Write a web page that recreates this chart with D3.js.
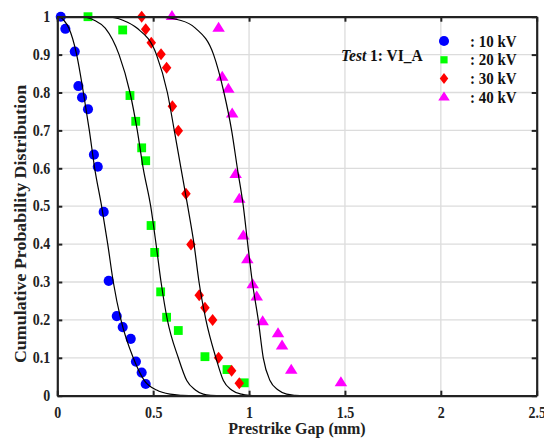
<!doctype html>
<html>
<head>
  <meta charset="utf-8">
  <script src="https://d3js.org/d3.v7.min.js"></script>
  <style>
    body { margin:0; background:#fff; }
    svg { display:block; font-family:"Liberation Serif","Times New Roman",serif; font-weight:bold; }
  </style>
</head>
<body>
  <script>
    // measured prestrike gaps (mm) and cumulative probability, one pair per voltage
    var gap10  = [0.018,0.042,0.091,0.110,0.129,0.160,0.191,0.211,0.242,0.268,0.310,0.341,0.383,0.410,0.440,0.461];
    var prob10 = [1.0,0.968,0.908,0.817,0.787,0.756,0.636,0.604,0.485,0.303,0.210,0.181,0.150,0.090,0.061,0.031];
    var gap20  = [0.160,0.341,0.379,0.409,0.440,0.461,0.489,0.508,0.539,0.570,0.631,0.770,0.885,0.975];
    var prob20 = [1.0,0.965,0.792,0.724,0.654,0.620,0.449,0.378,0.274,0.207,0.172,0.103,0.069,0.034];
    var gap30  = [0.440,0.461,0.490,0.541,0.570,0.600,0.631,0.671,0.697,0.740,0.770,0.810,0.841,0.909,0.949];
    var prob30 = [1.0,0.967,0.931,0.901,0.865,0.764,0.699,0.533,0.399,0.265,0.232,0.200,0.100,0.066,0.033];
    var gap40  = [0.598,0.841,0.860,0.892,0.912,0.930,0.949,0.970,0.991,1.019,1.040,1.071,1.151,1.172,1.220,1.479];
    var prob40 = [1.0,0.969,0.840,0.808,0.743,0.583,0.518,0.421,0.358,0.292,0.260,0.195,0.163,0.131,0.067,0.034];

    // fitted curves at these probability levels
    var fitProb  = [1,1,0.99,0.97,0.9,0.8,0.7,0.6,0.5,0.4,0.3,0.2,0.1,0.04,0.015,0.004,0.001,0,0];
    var fitGap10 = [0,0.005,0.035,0.060,0.101,0.136,0.167,0.195,0.231,0.263,0.292,0.332,0.396,0.454,0.518,0.588,0.65,0.72,2.5];
    var fitGap20 = [0,0.12,0.195,0.25,0.322,0.379,0.417,0.448,0.487,0.515,0.541,0.574,0.631,0.675,0.720,0.761,0.80,0.86,2.5];
    var fitGap30 = [0,0.25,0.345,0.415,0.517,0.574,0.610,0.645,0.680,0.713,0.739,0.775,0.827,0.866,0.909,0.961,1.0,1.05,2.5];
    var fitGap40 = [0,0.5,0.645,0.72,0.815,0.869,0.909,0.939,0.970,0.993,1.017,1.048,1.074,1.109,1.152,1.196,1.24,1.29,2.5];

    var legendLabels = [": 10 kV", ": 20 kV", ": 30 kV", ": 40 kV"];
    var xTicks = [0,0.5,1,1.5,2,2.5];
    var yTicks = [0,0.1,0.2,0.3,0.4,0.5,0.6,0.7,0.8,0.9,1];

    var width = 544, height = 438;
    var stretch = 1.12; // the original text is a bit taller than wide
    var svg = d3.select("body").append("svg")
      .attr("width", width)
      .attr("height", height);

    var x = d3.scaleLinear().domain([0,2.5]).range([57.3,536.7]);
    var y = d3.scaleLinear().domain([0,1]).range([395.7,16.7]);

    // grid
    svg.append("g").selectAll("line").data(xTicks.slice(1,-1)).enter().append("line")
      .attr("x1", d => x(d)).attr("x2", d => x(d))
      .attr("y1", y(0)).attr("y2", y(1))
      .attr("stroke", "#dcdcdc").attr("stroke-width", 1.3);
    svg.append("g").selectAll("line").data(yTicks.slice(1,-1)).enter().append("line")
      .attr("y1", d => y(d)).attr("y2", d => y(d))
      .attr("x1", x(0)).attr("x2", x(2.5))
      .attr("stroke", "#dcdcdc").attr("stroke-width", 1.3);

    // marker shapes
    function diamond(w, h) {
      return "M0," + (-h/2) + "L" + (w/2) + ",0L0," + (h/2) + "L" + (-w/2) + ",0Z";
    }
    function triangle(w, h) {
      return "M0," + (-h*2/3) + "L" + (w/2) + "," + (h/3) + "L" + (-w/2) + "," + (h/3) + "Z";
    }
    var series = [
      {gap: gap10, prob: prob10, color: "#0000ff", path: d3.symbol(d3.symbolCircle, 80)()},
      {gap: gap20, prob: prob20, color: "#00ff00", path: d3.symbol(d3.symbolSquare, 78)()},
      {gap: gap30, prob: prob30, color: "#ff0000", path: diamond(9.5, 12)},
      {gap: gap40, prob: prob40, color: "#ff00ff", path: triangle(12.5, 10)}
    ];
    var legendPaths = [
      d3.symbol(d3.symbolCircle, 80)(),
      d3.symbol(d3.symbolSquare, 52)(),
      diamond(8.5, 11),
      triangle(11.5, 9)
    ];

    series.forEach(function(s) {
      svg.append("g").selectAll("path").data(s.gap).enter().append("path")
        .attr("d", s.path)
        .attr("fill", s.color)
        .attr("transform", (d, i) => "translate(" + x(d) + "," + y(s.prob[i]) + ")");
    });

    // fitted curves
    var line = d3.line()
      .x(d => x(d[0])).y(d => y(d[1]))
      .curve(d3.curveMonotoneX);
    [fitGap10, fitGap20, fitGap30, fitGap40].forEach(function(g) {
      svg.append("path")
        .datum(g.map((v, i) => [v, fitProb[i]]))
        .attr("d", line)
        .attr("fill", "none")
        .attr("stroke", "#000")
        .attr("stroke-width", 1.2);
    });

    // axes, ticks inward, box all round
    var axisColor = "#222";
    var axBottom = svg.append("g").attr("transform", "translate(0," + y(0) + ")")
      .call(d3.axisBottom(x).tickValues(xTicks).tickFormat(d3.format("")).tickSizeInner(-5).tickSizeOuter(0));
    var axLeft = svg.append("g").attr("transform", "translate(" + x(0) + ",0)")
      .call(d3.axisLeft(y).tickValues(yTicks).tickFormat(d3.format("")).tickSizeInner(-5).tickSizeOuter(0).tickPadding(7));
    var axTop = svg.append("g").attr("transform", "translate(0," + y(1) + ")")
      .call(d3.axisTop(x).tickValues(xTicks).tickFormat("").tickSizeInner(-5).tickSizeOuter(0));
    var axRight = svg.append("g").attr("transform", "translate(" + x(2.5) + ",0)")
      .call(d3.axisRight(y).tickValues(yTicks).tickFormat("").tickSizeInner(-5).tickSizeOuter(0));
    [axBottom, axLeft, axTop, axRight].forEach(function(a) {
      a.select(".domain").attr("stroke", axisColor).attr("stroke-width", 2.2);
      a.selectAll(".tick line").attr("stroke", axisColor).attr("stroke-width", 2);
      a.selectAll(".tick text")
        .attr("fill", "#222")
        .style("font-family", "'Liberation Serif','Times New Roman',serif")
        .style("font-weight", "bold")
        .style("font-size", "14px");
    });
    axBottom.selectAll(".tick text")
      .attr("y", 0).attr("dy", null)
      .attr("transform", "translate(0,22.3) scale(1," + stretch + ")");
    axLeft.selectAll(".tick text")
      .attr("dy", "0.3em")
      .attr("transform", "scale(1," + stretch + ")");

    // axis titles
    svg.append("text")
      .attr("transform", "translate(" + ((x(0) + x(2.5)) / 2) + ",434.3) scale(1,1.08)")
      .attr("text-anchor", "middle")
      .attr("font-size", "16px").attr("fill", "#222")
      .text("Prestrike Gap (mm)");
    svg.append("text")
      .attr("transform", "translate(26,224) scale(1," + stretch + ") rotate(-90)")
      .attr("text-anchor", "middle")
      .attr("font-size", "16px").attr("fill", "#222")
      .text("Cumulative Probability Distribution");

    // annotation
    var note = svg.append("text")
      .attr("transform", "translate(341,60.7) scale(1," + stretch + ")")
      .attr("font-size", "15.5px").attr("fill", "#111");
    note.append("tspan").attr("font-style", "italic").text("Test");
    note.append("tspan").text(" 1: VI_A");

    // legend
    var legend = svg.append("g");
    legendLabels.forEach(function(lbl, i) {
      var ly = 41 + i * 18.8;
      legend.append("path")
        .attr("d", legendPaths[i])
        .attr("fill", series[i].color)
        .attr("transform", "translate(444," + ly + ")");
      legend.append("text")
        .attr("transform", "translate(470," + (ly + 5.6) + ") scale(1," + stretch + ")")
        .attr("font-size", "15px").attr("fill", "#111")
        .text(lbl);
    });
  </script>
</body>
</html>
